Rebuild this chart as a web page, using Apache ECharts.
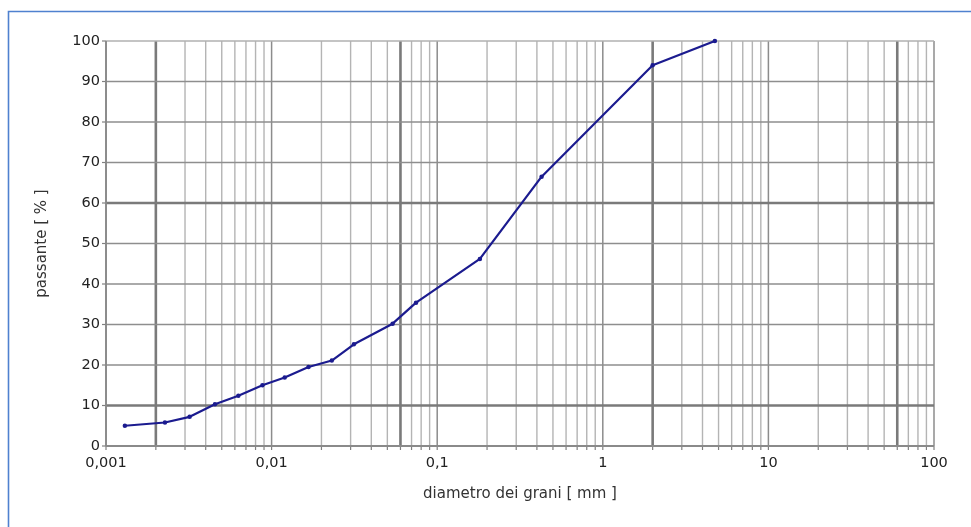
<!DOCTYPE html>
<html>
<head>
<meta charset="utf-8">
<script src="https://cdn.jsdelivr.net/npm/echarts@6/dist/echarts.min.js"></script>
<style>
  html, body { margin: 0; padding: 0; background: #ffffff; }
  #chart { width: 971px; height: 527px; }
</style>
</head>
<body>
<div id="chart"></div>
<script>
// Grain size distribution curve (passing % vs. grain diameter, log scale)
const diameters = [0.0013, 0.00227, 0.0032, 0.00455, 0.0063, 0.0088, 0.012, 0.0167, 0.0231, 0.0314, 0.0538, 0.0745, 0.181, 0.427, 2.0, 4.75];
const passing   = [5.0, 5.8, 7.2, 10.3, 12.4, 15.0, 16.9, 19.5, 21.1, 25.1, 30.2, 35.4, 46.2, 66.5, 94.0, 100];

// Axis extents and tick labels
const xMin = 0.001, xMax = 100;
const xTickLabels = { '0.001': '0,001', '0.01': '0,01', '0.1': '0,1', '1': '1', '10': '10', '100': '100' };
const yMin = 0, yMax = 100, yStep = 10;

// Class boundaries drawn as heavier grid lines (clay/silt/sand/gravel/cobbles)
const xBoundaries = [0.002, 0.06, 2, 60];
const yBoundaries = [10, 60];

// Vertical grid values: every n * 10^k inside the range
const xGridValues = [];
for (let k = -3; k <= 2; k++) {
  for (let n = 1; n <= 9; n++) {
    const v = +(n * Math.pow(10, k)).toPrecision(6);
    if (v >= xMin && v <= xMax) xGridValues.push(v);
  }
}
const yGridValues = [];
for (let v = yMin; v <= yMax; v += yStep) yGridValues.push(v);

const isBoundary = (list, v) => list.some(b => Math.abs(b - v) / b < 1e-6);
const isDecade = v => Math.abs(Math.log10(v) - Math.round(Math.log10(v))) < 1e-6;

const chart = echarts.init(document.getElementById('chart'), null, { renderer: 'canvas' });

const FONT = 'DejaVu Sans';

chart.setOption({
  animation: false,
  backgroundColor: '#ffffff',
  grid: { left: 106, right: 37, top: 41, bottom: 81 },
  graphic: [{
    type: 'rect',
    silent: true,
    shape: { x: 8.5, y: 11.5, width: 1000, height: 600 },
    style: { fill: 'none', stroke: '#4f81cf', lineWidth: 1.6 }
  }],
  xAxis: {
    type: 'log',
    logBase: 10,
    min: xMin,
    max: xMax,
    name: 'diametro dei grani [ mm ]',
    nameLocation: 'middle',
    nameGap: 41,
    nameTextStyle: { fontFamily: FONT, fontSize: 15, color: '#333' },
    axisLine: { show: false },
    axisTick: { show: false },
    splitLine: { show: false },
    axisLabel: {
      fontFamily: FONT, fontSize: 14.5, color: '#222', margin: 10,
      formatter: v => xTickLabels[String(+v.toPrecision(6))] || ''
    }
  },
  yAxis: {
    type: 'value',
    min: yMin,
    max: yMax,
    interval: yStep,
    name: 'passante [ % ]',
    nameLocation: 'middle',
    nameGap: 56,
    nameTextStyle: { fontFamily: FONT, fontSize: 15, color: '#333' },
    axisLine: { show: false },
    axisTick: { show: false },
    splitLine: { show: false },
    axisLabel: { fontFamily: FONT, fontSize: 14.5, color: '#222', margin: 6 }
  },
  series: [
    {
      // vertical grid lines with their tick marks below the axis
      type: 'custom',
      silent: true,
      z: 1,
      clip: false,
      data: xGridValues.map(v => [v]),
      renderItem: (params, api) => {
        const v = api.value(0);
        const p0 = api.coord([v, yMin]);
        const p1 = api.coord([v, yMax]);
        let stroke = '#b4b4b4', width = 1.4;
        if (isBoundary(xBoundaries, v)) { stroke = '#7a7a7a'; width = 2.6; }
        else if (isDecade(v)) { stroke = '#8c8c8c'; width = 1.5; }
        return {
          type: 'group',
          children: [
            { type: 'line', shape: { x1: p0[0], y1: p0[1], x2: p1[0], y2: p1[1] },
              style: { stroke: stroke, lineWidth: width } },
            { type: 'line', shape: { x1: p0[0], y1: p0[1], x2: p0[0], y2: p0[1] + 4 },
              style: { stroke: '#808080', lineWidth: 1.2 } }
          ]
        };
      }
    },
    {
      // horizontal grid lines with their tick marks left of the axis
      type: 'custom',
      silent: true,
      z: 2,
      clip: false,
      data: yGridValues.map(v => [v]),
      renderItem: (params, api) => {
        const v = api.value(0);
        const p0 = api.coord([xMin, v]);
        const p1 = api.coord([xMax, v]);
        let stroke = '#8e8e8e', width = 1.4;
        if (isBoundary(yBoundaries, v)) { stroke = '#7a7a7a'; width = 2.6; }
        else if (v === yMin) { stroke = '#8a8a8a'; width = 1.8; }
        else if (v === yMax) { stroke = '#b0b0b0'; width = 1.4; }
        return {
          type: 'group',
          children: [
            { type: 'line', shape: { x1: p0[0], y1: p0[1], x2: p1[0], y2: p1[1] },
              style: { stroke: stroke, lineWidth: width } },
            { type: 'line', shape: { x1: p0[0] - 4, y1: p0[1], x2: p0[0], y2: p0[1] },
              style: { stroke: '#808080', lineWidth: 1.2 } }
          ]
        };
      }
    },
    {
      // left axis line
      type: 'custom',
      silent: true,
      z: 3,
      clip: false,
      data: [[xMin]],
      renderItem: (params, api) => {
        const p0 = api.coord([xMin, yMin]);
        const p1 = api.coord([xMin, yMax]);
        return { type: 'line', shape: { x1: p0[0], y1: p0[1], x2: p1[0], y2: p1[1] },
                 style: { stroke: '#8a8a8a', lineWidth: 1.8 } };
      }
    },
    {
      name: 'passante',
      type: 'line',
      z: 10,
      data: diameters.map((d, i) => [d, passing[i]]),
      symbol: 'circle',
      symbolSize: 4.5,
      lineStyle: { color: '#1b1b8f', width: 2.2 },
      itemStyle: { color: '#1b1b8f' }
    }
  ]
});
</script>
</body>
</html>
